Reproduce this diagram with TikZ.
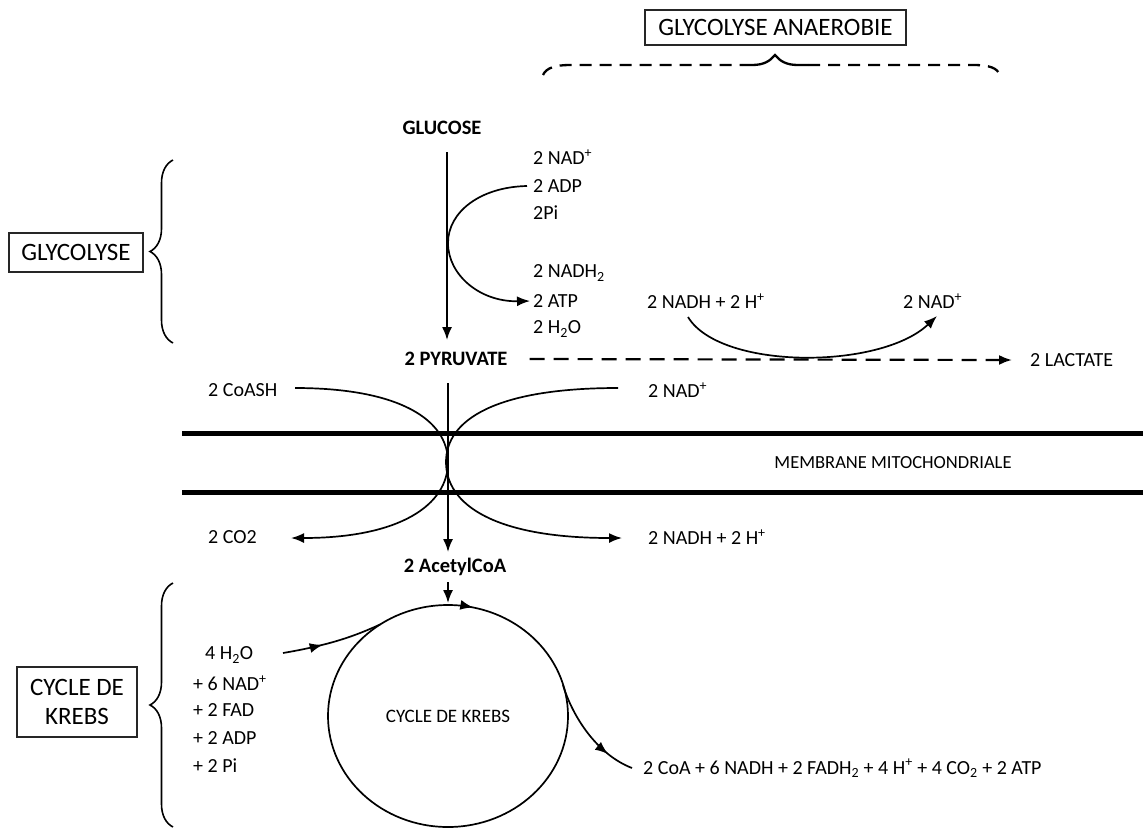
\documentclass[tikz,border=0pt]{standalone}
\usepackage{fontspec}
\setmainfont{Carlito}
\usetikzlibrary{arrows.meta,decorations.pathreplacing,decorations.markings,shapes.geometric}
\begin{document}
\begin{tikzpicture}[x=1pt,y=-1pt,
  every node/.style={font=\fontsize{20}{22}\selectfont, inner sep=0pt},
  lbl/.style={anchor=west},
  bold/.style={font=\fontsize{20.5}{22}\selectfont\bfseries},
  boxlbl/.style={draw=black!85, line width=1.3pt, font=\fontsize{25}{29}\selectfont, align=center},
  conn/.style={line width=1.7pt},
  arr/.style={conn, -{Latex[length=13pt,width=10pt]}},
  membrane/.style={line width=5pt},
  brc/.style={decorate, decoration={brace, amplitude=23pt}, line width=1.6pt},
  topbrace/.style={line width=2.3pt},
  tip/.style={decoration={markings, mark=at position #1 with {\arrow{Latex[length=13pt,width=10pt]}}}, postaction={decorate}},
]
\useasboundingbox (0,0) rectangle (1143,828);

% boxes
\node[boxlbl, minimum width=261pt, minimum height=35pt] (gan) at (775.5,27.5) {GLYCOLYSE ANAEROBIE};
\node[boxlbl, minimum width=134pt, minimum height=39pt] (gly) at (76,252.5) {GLYCOLYSE};
\node[boxlbl, minimum width=120pt, minimum height=70pt] (kbox) at (77,702) {CYCLE DE\\KREBS};

% braces
\draw[brc] (173,343) -- (173,160);
\draw[brc] (173,827) -- (173,583);
\draw[topbrace, dash pattern=on 12pt off 8pt] (543,75) .. controls (546,68) and (555,65) .. (570,65) -- (742,65);
\draw[topbrace] (742,65) -- (752,65) .. controls (764,65) and (770,61) .. (775,55)
  .. controls (780,61) and (786,65) .. (798,65) -- (808,65);
\draw[topbrace, dash pattern=on 12pt off 8pt] (808,65) -- (973,65) .. controls (990,65) and (997,68) .. (1000,75);

% glycolysis texts
\node[bold] (glu) at (442,128) {GLUCOSE};
\node[lbl] (nad1) at (533,157) {2 NAD\textsuperscript{+}};
\node[lbl] (adp1) at (533,186) {2 ADP};
\node[lbl] (pi1) at (533,213) {2Pi};
\node[lbl] (nadh2) at (533,273) {2 NADH\textsubscript{2}};
\node[lbl] (atp1) at (533,301) {2 ATP};
\node[lbl] (h2o1) at (533,329) {2 H\textsubscript{2}O};
\node[bold] (pyr) at (456,359) {2 PYRUVATE};
\node[lbl] (lac) at (1030,360) {2 LACTATE};
\node[lbl] (nadhl) at (647,301) {2 NADH + 2 H\textsuperscript{+}};
\node[lbl] (nadl) at (903,301) {2 NAD\textsuperscript{+}};
\node[lbl] (coash) at (208,390) {2 CoASH};
\node[lbl] (nad2) at (648,390) {2 NAD\textsuperscript{+}};
\node[font=\fontsize{18.5}{20}\selectfont] (memb) at (893,463) {MEMBRANE MITOCHONDRIALE};
\node[lbl] (co2) at (208,537) {2 CO2};
\node[lbl] (nadh3) at (648,537) {2 NADH + 2 H\textsuperscript{+}};
\node[bold] (acoa) at (455,567) {2 AcetylCoA};

% glycolysis arrows
\draw[arr] (447,152) -- (447,340);
\draw[arr] ([xshift=-6pt]adp1.west) .. controls (480,187) and (448,212) .. (448,243)
  .. controls (448,275) and (480,302) .. ([xshift=-3pt]atp1.west);

% anaerobic
\draw[arr, dash pattern=on 15pt off 9pt, line width=2.2pt] ([xshift=22pt]pyr.east) -- ([xshift=-18pt]lac.west);
\draw[arr] (688,317) .. controls (720,370) and (880,370) .. (937,316);

% membrane
\draw[membrane] (182,433) -- (1143,433);
\draw[membrane] (182,492) -- (1143,492);

% pyruvate -> acetylCoA
\draw[arr] (448,383) -- (448,552);
\draw[arr] (295,388) .. controls (400,388) and (448,420) .. (448,462)
  .. controls (448,505) and (400,538) .. (291,538);
\draw[arr] (618,388) .. controls (495,388) and (446,420) .. (446,462)
  .. controls (446,505) and (495,538) .. (622,538);

% Krebs
\draw[arr] (448,582) -- (448,603);
\node[font=\fontsize{19}{21}\selectfont] (kc) at (448,716) {CYCLE DE KREBS};
\draw[conn, decoration={markings,
   mark=at position 0.785 with {\arrow{Latex[length=13pt,width=10pt]}},
   mark=at position 0.255 with {\arrow{Latex[length=13pt,width=10pt]}}}, postaction={decorate}]
   (kc.center) ellipse [x radius=120, y radius=111];
\node[lbl] (h2o2) at (205,655) {4 H\textsubscript{2}O};
\node[lbl] (nad3) at (193,683) {+ 6 NAD\textsuperscript{+}};
\node[lbl] (fad) at (193,710) {+ 2 FAD};
\node[lbl] (adp2) at (193,738) {+ 2 ADP};
\node[lbl] (pi2) at (193,766) {+ 2 Pi};
\node[lbl, font=\fontsize{20}{22}\selectfont] (prod) at (643,768) {2 CoA + 6 NADH + 2 FADH\textsubscript{2} + 4 H\textsuperscript{+} + 4 CO\textsubscript{2} + 2 ATP};
\draw[conn, tip=0.4] (283,653) .. controls (330,645) and (355,636) .. (380,624.5);
\draw[conn, tip=0.75] (563,685) .. controls (573,718) and (598,755) .. (632,768);
\end{tikzpicture}
\end{document}
